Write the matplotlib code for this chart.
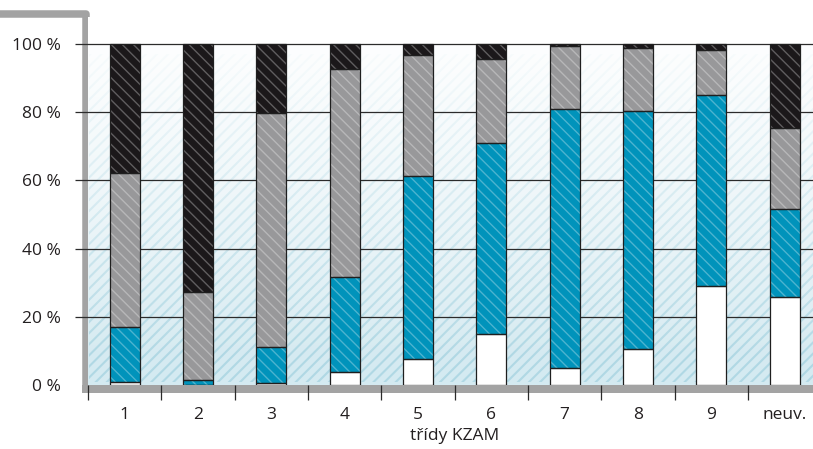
import numpy as np
import matplotlib
matplotlib.use("Agg")
import matplotlib.pyplot as plt
from matplotlib.lines import Line2D
from matplotlib.patches import Rectangle
from matplotlib.colors import to_rgb

# data (cumulative tops, in %)
categories = ["1", "2", "3", "4", "5", "6", "7", "8", "9", "neuv."]
white_top = [0.8, 0.0, 0.7, 3.7, 7.6, 14.9, 4.9, 10.6, 29.1, 25.7]
blue_top = [16.9, 1.4, 11.2, 31.6, 61.3, 71.1, 80.8, 80.4, 85.0, 51.5]
gray_top = [62.1, 27.2, 79.7, 92.8, 96.8, 95.5, 99.3, 98.7, 98.3, 75.5]
black_top = [100] * 10
yticks = [0, 20, 40, 60, 80, 100]

SEG_COLORS = ["#ffffff", "#0093bb", "#98989a", "#1b181a"]
TEXT = "#231f20"
FRAME = "#a3a3a3"

plt.rcParams["font.family"] = ["Open Sans", "DejaVu Sans"]

W, H = 813, 449
fig = plt.figure(figsize=(W / 100, H / 100), dpi=100)
ax = fig.add_axes([88 / W, (H - 385) / H, 733.3 / W, 368 / H])
ax.set_facecolor("none")
ymax = 368 / 3.41
ax.set_xlim(-0.5, 9.5)
ax.set_ylim(0, ymax)

# gray frame (figure pixels, drawn behind the axes)
def px(x, y):
    return x / W, (H - y) / H

frame_pts = [px(0, 13.5), px(85.5, 13.5), px(85.5, 389)]
fig.add_artist(Line2D([p[0] for p in frame_pts], [p[1] for p in frame_pts],
                      color=FRAME, linewidth=5.4, solid_joinstyle="round",
                      solid_capstyle="butt", zorder=-1))
fig.add_artist(Rectangle(px(82, 393), (W - 82) / W, 8 / H, transform=fig.transFigure,
                         facecolor=FRAME, edgecolor="none", zorder=-1))

# background: light blue base, sketchy strokes, white fade towards the top
top_c = np.array(to_rgb("#e8f3f7"))
bot_c = np.array(to_rgb("#d4eaf1"))
t = np.linspace(0, 1, 256)[:, None]
base = (bot_c * (1 - t) + top_c * t)[:, None, :].repeat(2, axis=1)
ax.imshow(base, extent=[-0.5, 9.5, 0, ymax], origin="lower", aspect="auto", zorder=0)

plt.rcParams["hatch.linewidth"] = 1.5
ax.add_patch(Rectangle((-0.48, 1.0), 9.98, 96, facecolor="none", edgecolor="#b0d8e4",
                       linewidth=0, hatch="///", zorder=0.1))
fade = np.ones((256, 2, 4))
fade[:, :, 3] = np.clip((t * ymax - 8) / 92, 0, 1) ** 0.9 * 0.93
fade[t[:, 0] * ymax > 100, :, 3] = 1.0
ax.imshow(fade, extent=[-0.5, 9.5, 0, ymax], origin="lower", aspect="auto", zorder=0.2)

# grid lines, extending a little to the left of the plot like tick marks
ax.hlines(yticks[1:], -0.5 - 13 / 73.3, 9.5, color="#2b2b2b", linewidth=0.9,
          clip_on=False, zorder=1)

# stacked bars
x = np.arange(len(categories))
width = 0.41
tops = [white_top, blue_top, gray_top, black_top]
bottom = np.zeros(len(categories))
plt.rcParams["hatch.linewidth"] = 1.0
for top, color in zip(tops, SEG_COLORS):
    top = np.array(top, dtype=float)
    h = top - bottom
    ax.bar(x, h, width, bottom=bottom, color=color, linewidth=0, zorder=2)
    if color != "#ffffff":
        ax.bar(x, h, width, bottom=bottom, color="none", edgecolor=(1, 1, 1, 0.3),
               linewidth=0, hatch="\\\\\\", zorder=2.1)
    ax.bar(x, h, width, bottom=bottom, color="none", edgecolor="#1f1f1f",
           linewidth=0.9, zorder=2.2)
    bottom = top

# axes styling
for s in ax.spines.values():
    s.set_visible(False)
ax.set_yticks(yticks)
ax.set_yticklabels([f"{v} %" for v in yticks])
ax.tick_params(axis="y", length=0, pad=19.5, labelsize=12.5, labelcolor=TEXT)
ax.set_xticks(x)
ax.set_xticklabels(categories)
ax.tick_params(axis="x", which="major", length=0, pad=15.5, labelsize=12.5, labelcolor=TEXT)
ax.set_xticks(np.arange(10) - 0.5, minor=True)
ax.tick_params(axis="x", which="minor", length=11, width=0.9, color="#2b2b2b", direction="out")
ax.set_xlabel("třídy KZAM", fontsize=12.5, color=TEXT, labelpad=4)

fig.savefig("out.png", dpi=100)
